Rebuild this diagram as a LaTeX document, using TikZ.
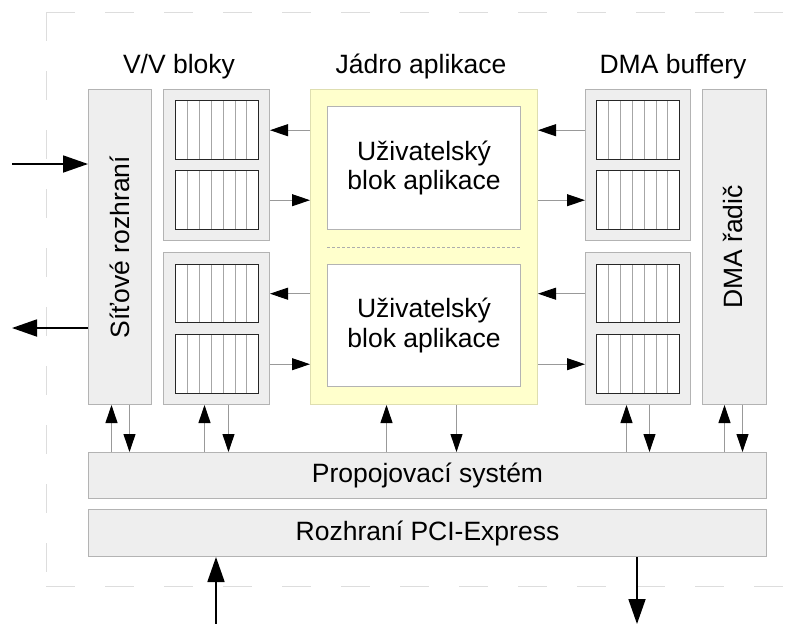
\documentclass[tikz,border=0pt]{standalone}
\usepackage{fontspec}
\setmainfont{Liberation Sans}
\usetikzlibrary{arrows.meta,calc}

\definecolor{boxgray}{HTML}{EEEEEE}
\definecolor{edgegray}{HTML}{B3B3B3}
\definecolor{coreyellow}{HTML}{FFFFCC}
\definecolor{coreedge}{HTML}{DEDEB0}
\definecolor{framegray}{HTML}{DDDDDD}
\definecolor{wiregray}{HTML}{999999}

\tikzset{
  popis/.style={font=\fontsize{26.5}{29.5}\selectfont,inner sep=0pt},
  blok/.style={draw=edgegray,fill=boxgray,line width=1pt,inner sep=0pt,anchor=north west},
  jadro/.style={blok,draw=coreedge,fill=coreyellow},
  uziv/.style={blok,fill=white},
  fifo/.style={draw=black!85,fill=white,line width=1.4pt,inner sep=0pt,anchor=north west,
    minimum width=83pt,
    path picture={
      \foreach \i in {1,...,6}
        \draw[draw=black!35,line width=0.8pt]
          ($(path picture bounding box.north west)!\i/7!(path picture bounding box.north east)$) --
          ($(path picture bounding box.south west)!\i/7!(path picture bounding box.south east)$);
    }},
  wire/.style={draw=wiregray,line width=0.9pt,-{Triangle[length=18pt,width=12pt,color=black]}},
  extwire/.style={draw=black,line width=1.8pt,-{Triangle[length=25pt,width=17pt]}},
  ramec/.style={draw=framegray,line width=1pt,dash pattern=on 29pt off 30pt},
  oddel/.style={draw=wiregray!80,line width=0.7pt,dash pattern=on 3pt off 2pt}
}

\begin{document}
\begin{tikzpicture}[x=1pt,y=-1pt]
    \useasboundingbox (0,0) rectangle (796,624);

    \draw[ramec] (46,12) -- (796,12);
    \draw[ramec] (46,12) -- (46,586);
    \draw[ramec] (46,586) -- (796,586);

    \node[popis,anchor=base] (vvtitle) at (179,73) {V/V bloky};
    \node[popis,anchor=base] (coretitle) at (421,73) {Jádro aplikace};
    \node[popis,anchor=base] (dmatitle) at (673,73) {DMA buffery};

    \node[blok,minimum width=63pt,minimum height=315pt] (sit) at (88,89) {};
    \node[popis,rotate=90] (sittext) at (sit) {Síťové rozhraní};

    \node[blok,minimum width=106pt,minimum height=151pt] (vvA) at (163,89) {};
    \node[blok,minimum width=106pt,minimum height=152pt] (vvB) at (163,252) {};
    \node[fifo,minimum height=59pt] (vfA1) at (175,100) {};
    \node[fifo,minimum height=59pt] (vfA2) at (175,170) {};
    \node[fifo,minimum height=58pt] (vfB1) at (175,264) {};
    \node[fifo,minimum height=59pt] (vfB2) at (175,334) {};

    \node[jadro,minimum width=227pt,minimum height=315pt] (core) at (310,89) {};
    \node[uziv,minimum width=193pt,minimum height=123pt] (uzA) at (327,106) {};
    \node[uziv,minimum width=193pt,minimum height=122pt] (uzB) at (327,264) {};
    \node[popis,align=center] (uzAtext) at (uzA) {Uživatelský\\blok aplikace};
    \node[popis,align=center] (uzBtext) at (uzB) {Uživatelský\\blok aplikace};
    \draw[oddel] ($(uzA.south west)!0.5!(uzB.north west)$) -- ($(uzA.south east)!0.5!(uzB.north east)$);

    \node[blok,minimum width=105pt,minimum height=151pt] (dmaA) at (585,89) {};
    \node[blok,minimum width=105pt,minimum height=152pt] (dmaB) at (585,252) {};
    \node[fifo,minimum height=59pt] (dfA1) at (596,100) {};
    \node[fifo,minimum height=59pt] (dfA2) at (596,170) {};
    \node[fifo,minimum height=58pt] (dfB1) at (596,264) {};
    \node[fifo,minimum height=59pt] (dfB2) at (596,334) {};

    \node[blok,minimum width=64pt,minimum height=315pt] (radic) at (702,89) {};
    \node[popis,rotate=90] (radictext) at ([xshift=-2pt]radic.center) {DMA řadič};

    \node[blok,minimum width=678pt,minimum height=46pt] (prop) at (88,452) {};
    \node[popis] (proptext) at (prop) {Propojovací systém};
    \node[blok,minimum width=678pt,minimum height=47pt] (pci) at (88,509) {};
    \node[popis] (pcitext) at (pci) {Rozhraní PCI-Express};

    % datove cesty jadro <-> buffery
    \foreach \f in {vfA1,vfB1}
        \draw[wire] (\f -| core.west) -- (\f -| vvA.east);
    \foreach \f in {vfA2,vfB2}
        \draw[wire] (\f -| vvA.east) -- (\f -| core.west);
    \foreach \f in {dfA1,dfB1}
        \draw[wire] (\f -| dmaA.west) -- (\f -| core.east);
    \foreach \f in {dfA2,dfB2}
        \draw[wire] (\f -| core.east) -- (\f -| dmaA.west);

    % propojovaci system
    \foreach \b/\u/\d in {sit/-8.5pt/9.5pt,vvB/-12pt/12pt,core/-37.5pt/32.5pt,dmaB/-11.5pt/11.5pt,radic/-10pt/8pt}{
        \draw[wire] ([xshift=\u]\b.south |- prop.north) -- ([xshift=\u]\b.south);
        \draw[wire] ([xshift=\d]\b.south) -- ([xshift=\d]\b.south |- prop.north);
    }

    \coordinate (netin) at (12,164);
    \coordinate (netout) at (12,328);
    \coordinate (pciin) at (216,624);
    \coordinate (pciout) at (637,624);
    \draw[extwire] (netin) -- (netin -| sit.west);
    \draw[extwire] (netout -| sit.west) -- (netout);
    \draw[extwire] (pciin) -- (pciin |- pci.south);
    \draw[extwire] (pciout |- pci.south) -- (pciout);
\end{tikzpicture}
\end{document}
